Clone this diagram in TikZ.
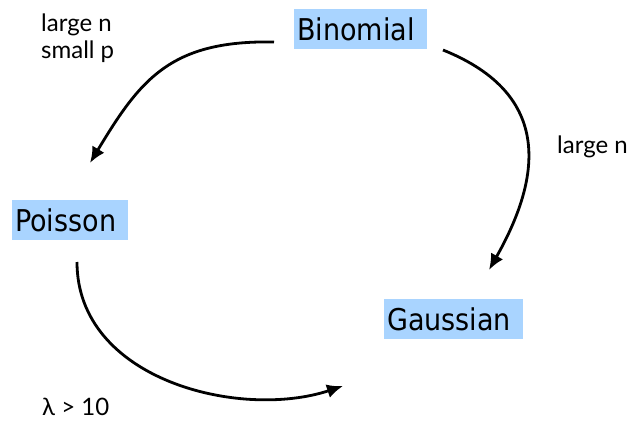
\documentclass[tikz,border=0pt]{standalone}
\usepackage{fontspec}
\setmainfont{Lato}
\newfontfamily\boxfont{DejaVu Sans Condensed}
\usetikzlibrary{arrows.meta}
\definecolor{boxblue}{HTML}{A9D4FF}
\tikzset{
  distbox/.style={fill=boxblue, anchor=north west, inner ysep=0pt, inner xsep=3pt,
    minimum height=40pt, align=left, font=\boxfont\fontsize{30}{32}\selectfont},
  cond/.style={inner sep=0pt, align=left,
    font=\fontsize{24}{27}\selectfont},
  flow/.style={line width=2.8pt, -{Latex[length=16pt,width=14pt]}},
}
\begin{document}
\begin{tikzpicture}[x=1pt,y=-1pt]
  \useasboundingbox (0,0) rectangle (631,425);
  % distributions
  \node[distbox, text width=127pt] (bin) at (294,9) {Binomial};
  \node[distbox, text width=110pt] (poi) at (12,200) {Poisson};
  \node[distbox, text width=133pt] (gau) at (384,299) {Gaussian};
  % anchor points of the connectors
  \coordinate (binL) at (274,42);
  \coordinate (binR) at (443,50);
  \coordinate (poiT) at (90,163);
  \coordinate (poiB) at (77,262);
  \coordinate (gauT) at (489,270);
  \coordinate (gauB) at (343,386);
  % limits
  \draw[flow] (binL) .. controls (170,40) and (140,80) .. (poiT);
  \draw[flow] (binR) .. controls (555,95) and (540,180) .. (gauT);
  \draw[flow] (poiB) .. controls (77,380) and (240,420) .. (gauB);
  % conditions
  \node[cond, anchor=north west] (c1) at (41,14) {large n\\small p};
  \node[cond, anchor=base west] (c2) at (557,153) {large n};
  \node[cond, anchor=base west] (c3) at (42,415) {λ > 10};
\end{tikzpicture}
\end{document}
